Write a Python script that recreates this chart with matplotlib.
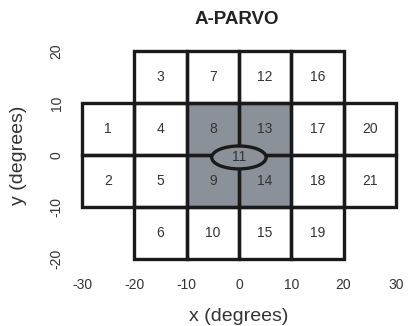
import matplotlib
matplotlib.use("Agg")
import matplotlib.pyplot as plt
from matplotlib.patches import Rectangle, Ellipse

plt.rcParams["font.family"] = ["Liberation Sans", "DejaVu Sans"]

# test-location grid (10 x 10 degree squares), lower-left corners
cell_ids = [1, 2, 3, 4, 5, 6, 7, 8, 9, 10, 12, 13, 14, 15, 16, 17, 18, 19, 20, 21]
cell_x = [-30, -30, -20, -20, -20, -20, -10, -10, -10, -10, 0, 0, 0, 0, 10, 10, 10, 10, 20, 20]
cell_y = [0, -10, 10, 0, -10, -20, 10, 0, -10, -20, 10, 0, -10, -20, 10, 0, -10, -20, 0, -10]
shaded = [8, 9, 13, 14, 11]
cell_size = 10

# central (foveal) location
center_id = 11
center_xy = (0, -0.5)
center_w, center_h = 10.4, 4.4

x_ticks = [-30, -20, -10, 0, 10, 20, 30]
y_ticks = [-20, -10, 0, 10, 20]

fill_gray = "#8b9199"
text_col = "#333333"

fig = plt.figure(figsize=(4.13, 3.26), dpi=100)
ax = fig.add_axes([0.186, 0.174, 0.785, 0.702])

for cid, x, y in zip(cell_ids, cell_x, cell_y):
    fc = fill_gray if cid in shaded else "white"
    ax.add_patch(Rectangle((x, y), cell_size, cell_size, facecolor=fc, edgecolor="none", zorder=1))
for cid, x, y in zip(cell_ids, cell_x, cell_y):
    ax.add_patch(Rectangle((x, y), cell_size, cell_size, fill=False, edgecolor="#1a1a1a",
                           linewidth=2.4, joinstyle="miter", zorder=2))
    ax.text(x + cell_size / 2, y + cell_size / 2, str(cid), ha="center", va="center",
            fontsize=10, color=text_col, zorder=4)

ax.add_patch(Ellipse(center_xy, center_w, center_h, facecolor=fill_gray, edgecolor="#1a1a1a",
                     linewidth=2.4, zorder=3))
ax.text(center_xy[0], center_xy[1], str(center_id), ha="center", va="center",
        fontsize=10, color=text_col, zorder=4)

ax.set_xlim(-31, 31)
ax.set_ylim(-22, 22)
ax.set_xticks(x_ticks)
ax.set_yticks(y_ticks)
ax.set_xticklabels([str(v) for v in x_ticks])
ax.set_yticklabels([str(v) for v in y_ticks], rotation=90, va="center")
ax.tick_params(length=0, labelsize=10, labelcolor=text_col)
ax.tick_params(axis="x", pad=6)
ax.tick_params(axis="y", pad=9.5)
for s in ax.spines.values():
    s.set_visible(False)

ax.set_xlabel("x (degrees)", fontsize=14, color=text_col, labelpad=12)
ax.set_ylabel("y (degrees)", fontsize=14, color=text_col, labelpad=16)
fig.text(0.574, 0.94, "A-PARVO", ha="center", va="center", fontsize=13.5,
         fontweight="bold", color="#222222")

fig.savefig("out.png", dpi=100)
